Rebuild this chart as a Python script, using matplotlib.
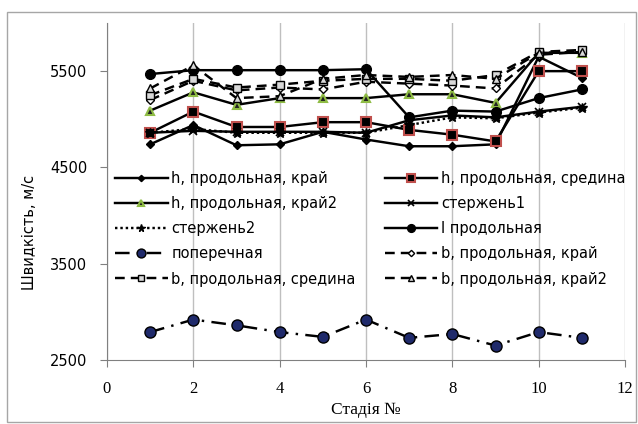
import numpy as np
import matplotlib
matplotlib.use("Agg")
import matplotlib.pyplot as plt
from matplotlib.patches import Rectangle

# stage numbers
stages = [1, 2, 3, 4, 5, 6, 7, 8, 9, 10, 11]

# velocities, m/s
h_kraj = [4740, 4940, 4730, 4740, 4870, 4790, 4720, 4720, 4740, 5650, 5430]
h_sered = [4860, 5080, 4920, 4920, 4970, 4970, 4890, 4840, 4770, 5500, 5500]
h_kraj2 = [5090, 5280, 5150, 5220, 5220, 5220, 5260, 5260, 5170, 5690, 5690]
sterzh1 = [4860, 4880, 4870, 4870, 4870, 4860, 4990, 5040, 5020, 5080, 5130]
sterzh2 = [4860, 4900, 4860, 4860, 4860, 4860, 4940, 5020, 5010, 5070, 5120]
l_prod = [5470, 5510, 5510, 5510, 5510, 5520, 5020, 5090, 5080, 5220, 5310]
poper = [2790, 2920, 2860, 2790, 2740, 2920, 2730, 2770, 2650, 2790, 2730]
b_kraj = [5200, 5400, 5300, 5330, 5310, 5390, 5370, 5350, 5320, 5670, 5700]
b_sered = [5250, 5420, 5330, 5360, 5400, 5420, 5420, 5400, 5460, 5700, 5720]
b_kraj2 = [5320, 5560, 5220, 5240, 5420, 5460, 5440, 5460, 5420, 5690, 5700]

labels = ["h, продольная, край", "h, продольная, средина",
          "h, продольная, край2", "стержень1",
          "стержень2", "l продольная",
          "поперечная", "b, продольная, край",
          "b, продольная, средина", "b, продольная, край2"]

fig = plt.figure(figsize=(6.38, 4.24), dpi=100)
# axes box: x 107..625 px, y 23..360 px
ax = fig.add_axes([107 / 638, 1 - 360 / 424, 518 / 638, 337 / 424])

lw = 1.75
dash = (0, (4, 2.5))
lines = []
lines += ax.plot(stages, h_kraj, color="black", lw=lw, marker="D", ms=4)
lines += ax.plot(stages, h_sered, color="black", lw=lw, marker="s", ms=7,
                 mfc="black", mec="#c0504d", mew=1.5)
lines += ax.plot(stages, h_kraj2, color="black", lw=lw, marker="^", ms=6,
                 mfc="#222222", mec="#8fbc45", mew=1.5)
lines += ax.plot(stages, sterzh1, color="black", lw=lw, marker="x", ms=6, mew=1.2)
lines += ax.plot(stages, sterzh2, color="black", lw=lw, ls=(0, (1, 1.2)),
                 marker="*", ms=7)
lines += ax.plot(stages, l_prod, color="black", lw=lw, marker="o", ms=7)
lines += ax.plot(stages, poper, color="black", lw=lw, ls=(0, (6, 3, 1, 3)),
                 marker="o", ms=8, mfc="#1f2a6b", mec="black", mew=1)
lines += ax.plot(stages, b_kraj, color="black", lw=lw, ls=dash, marker="D",
                 ms=4, mfc="white", mec="black")
lines += ax.plot(stages, b_sered, color="black", lw=lw, ls=dash, marker="s",
                 ms=6, mfc="#d9d9d9", mec="black")
lines += ax.plot(stages, b_kraj2, color="black", lw=lw, ls=dash, marker="^",
                 ms=6, mfc="#d9d9d9", mec="black")

ax.set_xlim(0, 12)
ax.set_ylim(2500, 6000)
ax.set_xticks(range(0, 13, 2))
ax.set_yticks([2500, 3500, 4500, 5500])
ax.grid(axis="x", color="#bfbfbf", lw=1)
ax.set_axisbelow(True)
for s in ["top", "right"]:
    ax.spines[s].set_visible(False)
for s in ["left", "bottom"]:
    ax.spines[s].set_color("#808080")
ax.tick_params(axis="y", length=5, color="#808080", labelsize=10.5, pad=9)
ax.tick_params(axis="x", length=5, color="#808080", labelsize=12, pad=10)
for t in ax.get_xticklabels():
    t.set_family("Liberation Serif")

fig.text(30 / 638, 1 - 232 / 424, "Швидкість, м/с", rotation=90,
         fontsize=10.5, ha="center", va="center")
fig.text(366 / 638, 1 - 410 / 424, "Стадія №", fontsize=12.5,
         family="Liberation Serif", ha="center", va="center")

# row-wise order in a 2-column legend
order = [0, 2, 4, 6, 8, 1, 3, 5, 7, 9]
ax.legend([lines[i] for i in order], [labels[i] for i in order],
          ncol=2, loc="upper left", bbox_to_anchor=(8 / 518, 0.56),
          frameon=False, fontsize=10.5, handlelength=3.6, handletextpad=0.25,
          labelspacing=0.69, columnspacing=2.0, borderaxespad=0, borderpad=0,
          markerscale=0.8)

fig.patches.append(Rectangle((7 / 638, 0.004), 0.986, 1 - 12.5 / 424 - 0.004,
                             transform=fig.transFigure, fill=False,
                             edgecolor="#a6a6a6", lw=1))

fig.savefig("out.png", dpi=100)
